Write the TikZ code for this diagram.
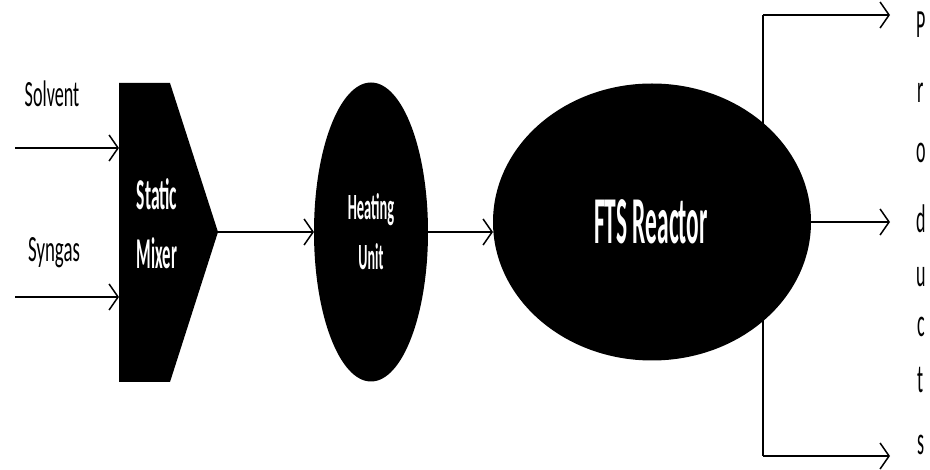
\documentclass[tikz,border=0pt]{standalone}
\usepackage{fontspec}
\setmainfont{Carlito}
\usetikzlibrary{shapes.geometric,arrows.meta}
\newcommand\sqz[2]{\scalebox{#1}[1]{#2}}
\begin{document}
\begin{tikzpicture}[x=1pt,y=-1pt,
  flow/.style={line width=1.8pt, -{Straight Barb[length=9pt,width=26pt,line width=1.5pt]}},
  link/.style={line width=1.8pt},
  blob/.style={fill=black, draw=none, inner sep=0pt, outer sep=0pt, shape=ellipse},
  lbl/.style={inner sep=0pt, anchor=base},
  wlbl/.style={lbl, text=white}]
\useasboundingbox (0,0) rectangle (930,470);
% coordinates
\coordinate (sin) at (15,148);
\coordinate (gin) at (15,297);
\coordinate (mixL1) at (119,148);
\coordinate (mixL2) at (119,297);
\coordinate (mixTip) at (218,232);
\coordinate (brTop) at (763,15);
\coordinate (brBot) at (763,456);
\coordinate (pTop) at (890,15);
\coordinate (pMid) at (890,222);
\coordinate (pBot) at (890,456);
% branch line behind reactor
\draw[link] (brTop) -- (brBot);
% static mixer
\fill (119,83) -- (170,83) -- (mixTip) -- (170,382) -- (119,382) -- cycle;
\node[wlbl, font=\fontsize{44pt}{44pt}\selectfont\bfseries] (static) at (157,210) {\sqz{0.40}{Static}};
\node[wlbl, font=\fontsize{44pt}{44pt}\selectfont\bfseries] (mixer) at (157,269) {\sqz{0.38}{Mixer}};
% heating unit
\node[blob, minimum width=114pt, minimum height=299pt] (heat) at (371,232) {};
\node[wlbl, font=\fontsize{37pt}{37pt}\selectfont\bfseries] (heatT) at (371,220) {\sqz{0.39}{Heating}};
\node[wlbl, font=\fontsize{37pt}{37pt}\selectfont\bfseries] (unitT) at (371,270) {\sqz{0.38}{Unit}};
% FTS reactor
\node[blob, minimum width=318pt, minimum height=277pt] (fts) at (652,222) {};
\node[wlbl, font=\fontsize{67pt}{67pt}\selectfont\bfseries] (ftsT) at (651,244) {\sqz{0.35}{FTS Reactor}};
% input labels
\node[lbl, font=\fontsize{37pt}{37pt}\selectfont] (solvent) at (52,107) {\sqz{0.49}{Solvent}};
\node[lbl, font=\fontsize{37pt}{37pt}\selectfont] (syngas) at (54,262) {\sqz{0.51}{Syngas}};
% connectors
\draw[flow] (sin) -- (mixL1);
\draw[flow] (gin) -- (mixL2);
\draw[flow] (mixTip) -- (heat.west);
\draw[flow] (heat.east) -- (heat.east -| fts.west);
\draw[flow] (fts.east) -- (pMid);
\draw[flow] (brTop) -- (pTop);
\draw[flow] (brBot) -- (pBot);
% products
\foreach \c/\y [count=\i] in {P/38,r/103,o/163,d/233,u/287,c/337,t/393,s/455}
  \node[lbl, font=\fontsize{40pt}{40pt}\selectfont] (prod\i) at (921,\y) {\sqz{0.45}{\c}};
\end{tikzpicture}
\end{document}
